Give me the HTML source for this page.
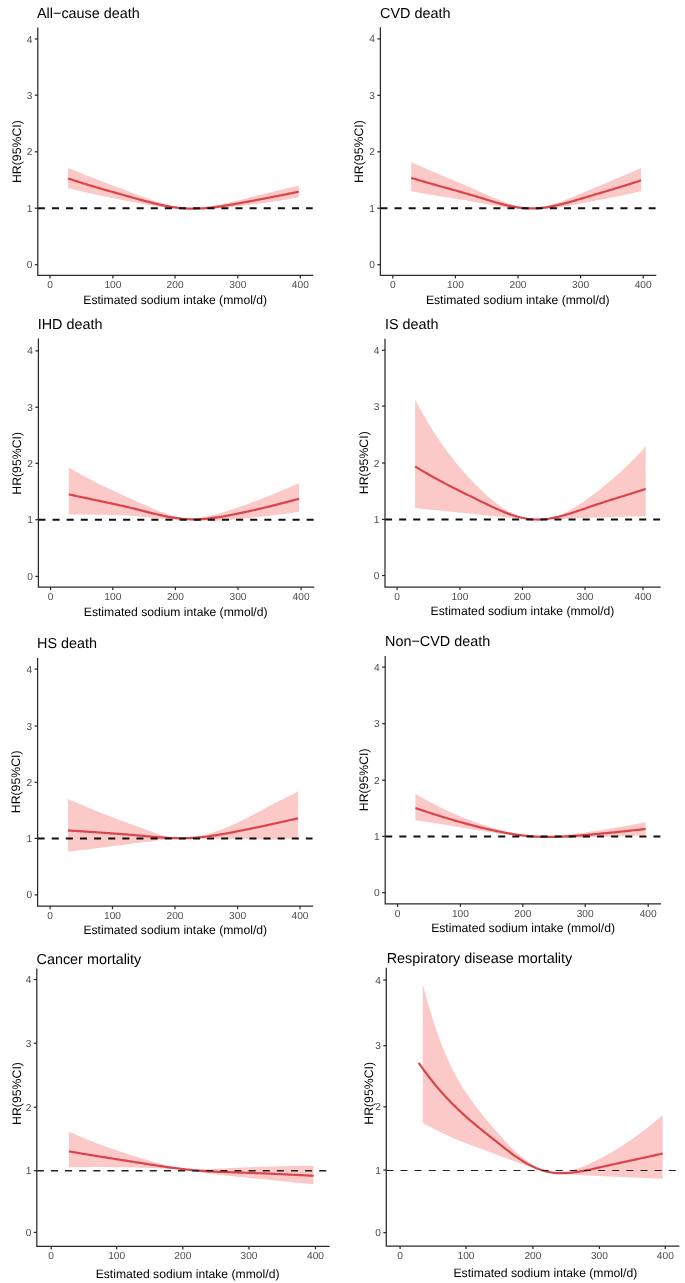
<!DOCTYPE html>
<html><head><meta charset="utf-8"><style>
html,body{margin:0;padding:0;background:#fff;width:685px;height:1283px;overflow:hidden}
svg{display:block;will-change:transform}
text{font-family:"Liberation Sans", sans-serif;text-rendering:geometricPrecision}
.tk{font-size:10.2px;fill:#4d4d4d}
.ti{font-size:14.4px;fill:#000}
.at{font-size:12.17px;fill:#000}
.yl{font-size:12.3px;fill:#000}
</style></head><body>
<svg width="685" height="1283" viewBox="0 0 685 1283">
<rect width="685" height="1283" fill="#fff"/>
<path d="M67.99,167.94 L69.94,168.72 L71.89,169.49 L73.84,170.27 L75.79,171.04 L77.74,171.82 L79.69,172.59 L81.64,173.36 L83.59,174.13 L85.54,174.9 L87.49,175.66 L89.44,176.43 L91.39,177.19 L93.34,177.95 L95.29,178.7 L97.24,179.46 L99.19,180.21 L101.14,180.96 L103.09,181.71 L105.04,182.46 L106.99,183.2 L108.94,183.95 L110.89,184.69 L112.84,185.43 L114.76,186.16 L116.69,186.9 L118.62,187.63 L120.54,188.36 L122.47,189.09 L124.4,189.82 L126.32,190.55 L128.25,191.27 L130.18,191.99 L132.1,192.71 L134.03,193.43 L135.96,194.14 L137.88,194.86 L139.81,195.57 L141.74,196.27 L143.66,196.97 L145.59,197.67 L147.52,198.35 L149.44,199.03 L151.37,199.69 L153.3,200.34 L155.22,200.97 L157.15,201.59 L159.08,202.19 L161,202.78 L162.93,203.34 L164.86,203.88 L166.78,204.4 L168.71,204.9 L170.64,205.38 L172.56,205.83 L174.49,206.25 L176.43,206.65 L178.38,207.02 L180.32,207.36 L182.27,207.68 L184.21,207.96 L186.16,208.21 L188.1,208.43 L190.05,208.61 L191.99,208.6 L193.94,208.48 L195.88,208.32 L197.83,208.14 L199.77,207.93 L201.72,207.7 L203.66,207.44 L205.61,207.17 L207.55,206.87 L209.5,206.55 L211.45,206.21 L213.39,205.86 L215.34,205.49 L217.28,205.1 L219.23,204.7 L221.17,204.28 L223.12,203.86 L225.06,203.42 L227.01,202.97 L228.95,202.51 L230.9,202.05 L232.84,201.58 L234.79,201.11 L236.73,200.63 L238.68,200.15 L240.61,199.68 L242.55,199.2 L244.49,198.72 L246.43,198.24 L248.36,197.76 L250.3,197.28 L252.24,196.8 L254.18,196.33 L256.11,195.85 L258.05,195.37 L259.99,194.89 L261.93,194.42 L263.86,193.94 L265.8,193.47 L267.74,192.99 L269.68,192.52 L271.61,192.05 L273.55,191.58 L275.49,191.11 L277.43,190.64 L279.36,190.17 L281.3,189.71 L283.24,189.25 L285.17,188.79 L287.11,188.33 L289.05,187.87 L290.99,187.42 L292.93,186.97 L294.86,186.52 L296.8,186.08 L298.74,185.63 L298.74,197.25 L296.8,197.63 L294.86,197.99 L292.93,198.35 L290.99,198.7 L289.05,199.04 L287.11,199.38 L285.17,199.72 L283.24,200.04 L281.3,200.37 L279.36,200.68 L277.43,200.99 L275.49,201.3 L273.55,201.6 L271.61,201.89 L269.68,202.19 L267.74,202.47 L265.8,202.76 L263.86,203.03 L261.93,203.31 L259.99,203.58 L258.05,203.84 L256.11,204.11 L254.18,204.37 L252.24,204.62 L250.3,204.87 L248.36,205.12 L246.43,205.37 L244.49,205.61 L242.55,205.85 L240.61,206.09 L238.68,206.33 L236.73,206.56 L234.79,206.79 L232.84,207.02 L230.9,207.24 L228.95,207.45 L227.01,207.65 L225.06,207.85 L223.12,208.04 L221.17,208.21 L219.23,208.38 L217.28,208.53 L215.34,208.67 L213.39,208.79 L211.45,208.89 L209.5,208.98 L207.55,209.04 L205.61,209.09 L203.66,209.12 L201.72,209.12 L199.77,209.1 L197.83,209.06 L195.88,208.99 L193.94,208.89 L191.99,208.77 L190.05,208.7 L188.1,208.77 L186.16,208.81 L184.21,208.82 L182.27,208.8 L180.32,208.75 L178.38,208.68 L176.43,208.58 L174.49,208.45 L172.56,208.31 L170.64,208.14 L168.71,207.95 L166.78,207.74 L164.86,207.51 L162.93,207.26 L161,207 L159.08,206.72 L157.15,206.43 L155.22,206.12 L153.3,205.8 L151.37,205.48 L149.44,205.14 L147.52,204.79 L145.59,204.44 L143.66,204.08 L141.74,203.72 L139.81,203.35 L137.88,202.98 L135.96,202.61 L134.03,202.24 L132.1,201.88 L130.18,201.5 L128.25,201.13 L126.32,200.76 L124.4,200.39 L122.47,200.01 L120.54,199.63 L118.62,199.26 L116.69,198.87 L114.76,198.49 L112.84,198.1 L110.89,197.72 L108.94,197.32 L106.99,196.93 L105.04,196.53 L103.09,196.13 L101.14,195.72 L99.19,195.31 L97.24,194.89 L95.29,194.47 L93.34,194.04 L91.39,193.61 L89.44,193.17 L87.49,192.73 L85.54,192.28 L83.59,191.82 L81.64,191.36 L79.69,190.89 L77.74,190.41 L75.79,189.93 L73.84,189.44 L71.89,188.94 L69.94,188.43 L67.99,187.91Z" fill="#fbc9c8"/>
<path d="M67.99,178.5 L69.94,179.14 L71.89,179.77 L73.84,180.4 L75.79,181.02 L77.74,181.63 L79.69,182.25 L81.64,182.85 L83.59,183.46 L85.54,184.06 L87.49,184.65 L89.44,185.24 L91.39,185.83 L93.34,186.41 L95.29,186.99 L97.24,187.56 L99.19,188.13 L101.14,188.7 L103.09,189.26 L105.04,189.82 L106.99,190.38 L108.94,190.94 L110.89,191.49 L112.84,192.04 L114.76,192.59 L116.69,193.14 L118.62,193.68 L120.54,194.22 L122.47,194.77 L124.4,195.3 L126.32,195.84 L128.25,196.38 L130.18,196.91 L132.1,197.45 L134.03,197.98 L135.96,198.51 L137.88,199.05 L139.81,199.58 L141.74,200.1 L143.66,200.63 L145.59,201.14 L147.52,201.66 L149.44,202.16 L151.37,202.65 L153.3,203.13 L155.22,203.6 L157.15,204.06 L159.08,204.5 L161,204.92 L162.93,205.33 L164.86,205.72 L166.78,206.09 L168.71,206.44 L170.64,206.77 L172.56,207.08 L174.49,207.36 L176.43,207.62 L178.38,207.86 L180.32,208.06 L182.27,208.24 L184.21,208.39 L186.16,208.51 L188.1,208.6 L190.05,208.66 L191.99,208.69 L193.94,208.69 L195.88,208.66 L197.83,208.6 L199.77,208.52 L201.72,208.41 L203.66,208.29 L205.61,208.14 L207.55,207.97 L209.5,207.78 L211.45,207.57 L213.39,207.34 L215.34,207.1 L217.28,206.84 L219.23,206.57 L221.17,206.28 L223.12,205.99 L225.06,205.68 L227.01,205.36 L228.95,205.03 L230.9,204.7 L232.84,204.36 L234.79,204.02 L236.73,203.67 L238.68,203.32 L240.61,202.97 L242.55,202.62 L244.49,202.26 L246.43,201.91 L248.36,201.55 L250.3,201.19 L252.24,200.83 L254.18,200.47 L256.11,200.11 L258.05,199.75 L259.99,199.38 L261.93,199.01 L263.86,198.64 L265.8,198.27 L267.74,197.9 L269.68,197.53 L271.61,197.15 L273.55,196.77 L275.49,196.39 L277.43,196.01 L279.36,195.63 L281.3,195.24 L283.24,194.85 L285.17,194.46 L287.11,194.07 L289.05,193.68 L290.99,193.28 L292.93,192.88 L294.86,192.48 L296.8,192.08 L298.74,191.68" fill="none" stroke="#d9454b" stroke-width="2.2" stroke-linejoin="round"/>
<line x1="37.8" y1="208.2" x2="312.7" y2="208.2" stroke="#111" stroke-width="2" stroke-dasharray="7.06 7.06"/>
<path d="M37.8,28.2 L37.8,275.4 L312.7,275.4" fill="none" stroke="#2b2b2b" stroke-width="1.25" stroke-linejoin="miter" stroke-linecap="square"/>
<line x1="34.8" y1="264.7" x2="37.8" y2="264.7" stroke="#2b2b2b" stroke-width="1.25"/>
<text x="32.3" y="268.2" text-anchor="end" class="tk">0</text>
<line x1="34.8" y1="208.2" x2="37.8" y2="208.2" stroke="#2b2b2b" stroke-width="1.25"/>
<text x="32.3" y="211.7" text-anchor="end" class="tk">1</text>
<line x1="34.8" y1="151.8" x2="37.8" y2="151.8" stroke="#2b2b2b" stroke-width="1.25"/>
<text x="32.3" y="155.3" text-anchor="end" class="tk">2</text>
<line x1="34.8" y1="95.2" x2="37.8" y2="95.2" stroke="#2b2b2b" stroke-width="1.25"/>
<text x="32.3" y="98.7" text-anchor="end" class="tk">3</text>
<line x1="34.8" y1="39.0" x2="37.8" y2="39.0" stroke="#2b2b2b" stroke-width="1.25"/>
<text x="32.3" y="42.5" text-anchor="end" class="tk">4</text>
<line x1="50.0" y1="275.4" x2="50.0" y2="278.4" stroke="#2b2b2b" stroke-width="1.25"/>
<text x="50.0" y="288.2" text-anchor="middle" class="tk">0</text>
<line x1="112.9" y1="275.4" x2="112.9" y2="278.4" stroke="#2b2b2b" stroke-width="1.25"/>
<text x="112.9" y="288.2" text-anchor="middle" class="tk">100</text>
<line x1="175.05" y1="275.4" x2="175.05" y2="278.4" stroke="#2b2b2b" stroke-width="1.25"/>
<text x="175.05" y="288.2" text-anchor="middle" class="tk">200</text>
<line x1="237.8" y1="275.4" x2="237.8" y2="278.4" stroke="#2b2b2b" stroke-width="1.25"/>
<text x="237.8" y="288.2" text-anchor="middle" class="tk">300</text>
<line x1="300.3" y1="275.4" x2="300.3" y2="278.4" stroke="#2b2b2b" stroke-width="1.25"/>
<text x="300.3" y="288.2" text-anchor="middle" class="tk">400</text>
<text x="37" y="17.6" class="ti">All−cause death</text>
<text x="83.3" y="303.9" class="at">Estimated sodium intake (mmol/d)</text>
<text transform="translate(20.6,151.6) rotate(-90)" text-anchor="middle" class="yl">HR(95%CI)</text>
<path d="M411.2,162.26 L413.14,163.1 L415.07,163.94 L417,164.78 L418.93,165.61 L420.86,166.45 L422.79,167.28 L424.72,168.11 L426.65,168.94 L428.58,169.77 L430.52,170.6 L432.45,171.42 L434.38,172.24 L436.31,173.06 L438.24,173.87 L440.17,174.69 L442.1,175.51 L444.03,176.32 L445.96,177.14 L447.9,177.95 L449.83,178.77 L451.76,179.59 L453.69,180.4 L455.62,181.22 L457.55,182.05 L459.48,182.87 L461.41,183.69 L463.34,184.52 L465.28,185.35 L467.21,186.19 L469.14,187.02 L471.07,187.86 L473,188.7 L474.93,189.55 L476.86,190.4 L478.79,191.25 L480.73,192.1 L482.66,192.96 L484.59,193.81 L486.52,194.67 L488.45,195.52 L490.38,196.35 L492.31,197.18 L494.24,198 L496.17,198.79 L498.11,199.57 L500.04,200.33 L501.97,201.07 L503.9,201.79 L505.83,202.48 L507.76,203.14 L509.69,203.77 L511.62,204.37 L513.55,204.94 L515.49,205.48 L517.42,205.98 L519.35,206.45 L521.28,206.87 L523.21,207.26 L525.14,207.61 L527.07,207.91 L529,208.18 L530.93,208.39 L532.87,208.36 L534.8,208.14 L536.73,207.87 L538.66,207.56 L540.59,207.21 L542.52,206.83 L544.45,206.41 L546.38,205.95 L548.31,205.46 L550.25,204.94 L552.18,204.38 L554.11,203.8 L556.04,203.19 L557.97,202.55 L559.9,201.89 L561.83,201.21 L563.76,200.5 L565.69,199.77 L567.63,199.03 L569.56,198.27 L571.49,197.49 L573.42,196.71 L575.35,195.91 L577.28,195.11 L579.21,194.3 L581.14,193.49 L583.08,192.68 L585.01,191.87 L586.94,191.06 L588.87,190.24 L590.8,189.43 L592.73,188.62 L594.66,187.81 L596.59,187 L598.52,186.19 L600.46,185.38 L602.39,184.56 L604.32,183.75 L606.25,182.94 L608.18,182.12 L610.11,181.31 L612.04,180.49 L613.97,179.68 L615.9,178.86 L617.84,178.05 L619.77,177.23 L621.7,176.41 L623.63,175.59 L625.56,174.77 L627.49,173.94 L629.42,173.12 L631.35,172.29 L633.28,171.46 L635.22,170.63 L637.15,169.8 L639.08,168.97 L641.01,168.14 L641.01,191.14 L639.08,191.61 L637.15,192.07 L635.22,192.53 L633.28,192.97 L631.35,193.41 L629.42,193.84 L627.49,194.27 L625.56,194.69 L623.63,195.1 L621.7,195.51 L619.77,195.92 L617.84,196.31 L615.9,196.71 L613.97,197.1 L612.04,197.49 L610.11,197.87 L608.18,198.25 L606.25,198.63 L604.32,199.01 L602.39,199.38 L600.46,199.75 L598.52,200.12 L596.59,200.49 L594.66,200.86 L592.73,201.23 L590.8,201.6 L588.87,201.97 L586.94,202.34 L585.01,202.71 L583.08,203.08 L581.14,203.46 L579.21,203.83 L577.28,204.21 L575.35,204.58 L573.42,204.95 L571.49,205.31 L569.56,205.66 L567.63,206.01 L565.69,206.34 L563.76,206.66 L561.83,206.96 L559.9,207.25 L557.97,207.52 L556.04,207.77 L554.11,207.99 L552.18,208.2 L550.25,208.38 L548.31,208.53 L546.38,208.65 L544.45,208.74 L542.52,208.8 L540.59,208.83 L538.66,208.82 L536.73,208.78 L534.8,208.69 L532.87,208.56 L530.93,208.55 L529,208.68 L527.07,208.78 L525.14,208.83 L523.21,208.85 L521.28,208.82 L519.35,208.77 L517.42,208.67 L515.49,208.55 L513.55,208.4 L511.62,208.22 L509.69,208.01 L507.76,207.78 L505.83,207.53 L503.9,207.26 L501.97,206.97 L500.04,206.66 L498.11,206.34 L496.17,206 L494.24,205.66 L492.31,205.3 L490.38,204.94 L488.45,204.57 L486.52,204.2 L484.59,203.82 L482.66,203.45 L480.73,203.09 L478.79,202.73 L476.86,202.37 L474.93,202.02 L473,201.68 L471.07,201.34 L469.14,201.01 L467.21,200.68 L465.28,200.35 L463.34,200.03 L461.41,199.72 L459.48,199.4 L457.55,199.09 L455.62,198.78 L453.69,198.47 L451.76,198.16 L449.83,197.86 L447.9,197.55 L445.96,197.24 L444.03,196.93 L442.1,196.62 L440.17,196.31 L438.24,196 L436.31,195.69 L434.38,195.37 L432.45,195.04 L430.52,194.72 L428.58,194.38 L426.65,194.05 L424.72,193.7 L422.79,193.36 L420.86,193 L418.93,192.64 L417,192.28 L415.07,191.91 L413.14,191.53 L411.2,191.15Z" fill="#fbc9c8"/>
<path d="M411.2,177.9 L413.14,178.48 L415.07,179.06 L417,179.63 L418.93,180.2 L420.86,180.77 L422.79,181.33 L424.72,181.89 L426.65,182.45 L428.58,183 L430.52,183.55 L432.45,184.09 L434.38,184.63 L436.31,185.17 L438.24,185.71 L440.17,186.24 L442.1,186.78 L444.03,187.31 L445.96,187.84 L447.9,188.38 L449.83,188.91 L451.76,189.45 L453.69,189.98 L455.62,190.52 L457.55,191.06 L459.48,191.6 L461.41,192.15 L463.34,192.7 L465.28,193.25 L467.21,193.8 L469.14,194.36 L471.07,194.93 L473,195.49 L474.93,196.07 L476.86,196.65 L478.79,197.23 L480.73,197.82 L482.66,198.41 L484.59,199.01 L486.52,199.61 L488.45,200.2 L490.38,200.79 L492.31,201.37 L494.24,201.94 L496.17,202.5 L498.11,203.05 L500.04,203.58 L501.97,204.09 L503.9,204.59 L505.83,205.06 L507.76,205.51 L509.69,205.93 L511.62,206.33 L513.55,206.7 L515.49,207.04 L517.42,207.34 L519.35,207.62 L521.28,207.86 L523.21,208.06 L525.14,208.22 L527.07,208.35 L529,208.43 L530.93,208.47 L532.87,208.46 L534.8,208.41 L536.73,208.32 L538.66,208.19 L540.59,208.03 L542.52,207.82 L544.45,207.59 L546.38,207.32 L548.31,207.01 L550.25,206.68 L552.18,206.32 L554.11,205.94 L556.04,205.52 L557.97,205.09 L559.9,204.63 L561.83,204.15 L563.76,203.66 L565.69,203.14 L567.63,202.62 L569.56,202.07 L571.49,201.52 L573.42,200.96 L575.35,200.39 L577.28,199.82 L579.21,199.24 L581.14,198.66 L583.08,198.08 L585.01,197.51 L586.94,196.93 L588.87,196.36 L590.8,195.79 L592.73,195.21 L594.66,194.64 L596.59,194.07 L598.52,193.5 L600.46,192.92 L602.39,192.35 L604.32,191.78 L606.25,191.2 L608.18,190.63 L610.11,190.05 L612.04,189.47 L613.97,188.89 L615.9,188.31 L617.84,187.72 L619.77,187.13 L621.7,186.54 L623.63,185.95 L625.56,185.35 L627.49,184.75 L629.42,184.15 L631.35,183.54 L633.28,182.92 L635.22,182.3 L637.15,181.68 L639.08,181.05 L641.01,180.42" fill="none" stroke="#d9454b" stroke-width="2.2" stroke-linejoin="round"/>
<line x1="380.4" y1="208.2" x2="655.6" y2="208.2" stroke="#111" stroke-width="2" stroke-dasharray="7.06 7.06"/>
<path d="M380.4,27.8 L380.4,275.4 L655.6,275.4" fill="none" stroke="#2b2b2b" stroke-width="1.25" stroke-linejoin="miter" stroke-linecap="square"/>
<line x1="377.4" y1="264.7" x2="380.4" y2="264.7" stroke="#2b2b2b" stroke-width="1.25"/>
<text x="374.9" y="268.2" text-anchor="end" class="tk">0</text>
<line x1="377.4" y1="208.2" x2="380.4" y2="208.2" stroke="#2b2b2b" stroke-width="1.25"/>
<text x="374.9" y="211.7" text-anchor="end" class="tk">1</text>
<line x1="377.4" y1="151.8" x2="380.4" y2="151.8" stroke="#2b2b2b" stroke-width="1.25"/>
<text x="374.9" y="155.3" text-anchor="end" class="tk">2</text>
<line x1="377.4" y1="95.4" x2="380.4" y2="95.4" stroke="#2b2b2b" stroke-width="1.25"/>
<text x="374.9" y="98.9" text-anchor="end" class="tk">3</text>
<line x1="377.4" y1="38.9" x2="380.4" y2="38.9" stroke="#2b2b2b" stroke-width="1.25"/>
<text x="374.9" y="42.4" text-anchor="end" class="tk">4</text>
<line x1="392.8" y1="275.4" x2="392.8" y2="278.4" stroke="#2b2b2b" stroke-width="1.25"/>
<text x="392.8" y="288.2" text-anchor="middle" class="tk">0</text>
<line x1="455.4" y1="275.4" x2="455.4" y2="278.4" stroke="#2b2b2b" stroke-width="1.25"/>
<text x="455.4" y="288.2" text-anchor="middle" class="tk">100</text>
<line x1="518.0" y1="275.4" x2="518.0" y2="278.4" stroke="#2b2b2b" stroke-width="1.25"/>
<text x="518.0" y="288.2" text-anchor="middle" class="tk">200</text>
<line x1="580.6" y1="275.4" x2="580.6" y2="278.4" stroke="#2b2b2b" stroke-width="1.25"/>
<text x="580.6" y="288.2" text-anchor="middle" class="tk">300</text>
<line x1="643.2" y1="275.4" x2="643.2" y2="278.4" stroke="#2b2b2b" stroke-width="1.25"/>
<text x="643.2" y="288.2" text-anchor="middle" class="tk">400</text>
<text x="380" y="17.8" class="ti">CVD death</text>
<text x="425.9" y="303.9" class="at">Estimated sodium intake (mmol/d)</text>
<text transform="translate(363.2,151.6) rotate(-90)" text-anchor="middle" class="yl">HR(95%CI)</text>
<path d="M68.76,467.55 L70.68,468.69 L72.61,469.81 L74.53,470.91 L76.45,472.01 L78.37,473.08 L80.29,474.15 L82.21,475.2 L84.13,476.24 L86.06,477.27 L87.98,478.28 L89.9,479.28 L91.82,480.27 L93.74,481.25 L95.66,482.22 L97.58,483.18 L99.5,484.13 L101.43,485.07 L103.35,486.01 L105.27,486.93 L107.19,487.85 L109.11,488.77 L111.03,489.67 L112.96,490.58 L114.89,491.48 L116.82,492.37 L118.76,493.26 L120.69,494.15 L122.62,495.04 L124.56,495.92 L126.49,496.8 L128.43,497.68 L130.36,498.55 L132.29,499.43 L134.23,500.3 L136.16,501.18 L138.09,502.05 L140.03,502.92 L141.96,503.79 L143.9,504.66 L145.83,505.51 L147.76,506.36 L149.7,507.2 L151.63,508.02 L153.56,508.83 L155.5,509.63 L157.43,510.4 L159.37,511.16 L161.3,511.89 L163.23,512.6 L165.17,513.29 L167.1,513.96 L169.03,514.59 L170.97,515.21 L172.9,515.79 L174.84,516.34 L176.77,516.87 L178.7,517.36 L180.64,517.82 L182.57,518.25 L184.5,518.64 L186.44,519 L188.37,519.22 L190.31,519.07 L192.24,518.88 L194.17,518.67 L196.11,518.42 L198.04,518.14 L199.97,517.84 L201.91,517.51 L203.84,517.15 L205.78,516.77 L207.71,516.36 L209.64,515.93 L211.58,515.48 L213.51,515 L215.45,514.5 L217.38,513.98 L219.31,513.45 L221.25,512.89 L223.18,512.32 L225.11,511.73 L227.05,511.12 L228.98,510.5 L230.92,509.87 L232.85,509.23 L234.78,508.57 L236.72,507.91 L238.66,507.24 L240.6,506.56 L242.55,505.87 L244.5,505.18 L246.45,504.48 L248.4,503.77 L250.35,503.05 L252.3,502.33 L254.25,501.6 L256.2,500.87 L258.15,500.13 L260.1,499.38 L262.05,498.62 L264,497.86 L265.94,497.09 L267.89,496.31 L269.84,495.53 L271.79,494.74 L273.74,493.94 L275.69,493.14 L277.64,492.33 L279.59,491.51 L281.54,490.69 L283.49,489.86 L285.44,489.03 L287.39,488.19 L289.33,487.34 L291.28,486.49 L293.23,485.63 L295.18,484.76 L297.13,483.89 L299.08,483.02 L299.08,511.81 L297.13,512.09 L295.18,512.36 L293.23,512.64 L291.28,512.91 L289.33,513.17 L287.39,513.44 L285.44,513.7 L283.49,513.96 L281.54,514.21 L279.59,514.47 L277.64,514.72 L275.69,514.97 L273.74,515.21 L271.79,515.45 L269.84,515.69 L267.89,515.93 L265.94,516.16 L264,516.39 L262.05,516.62 L260.1,516.84 L258.15,517.06 L256.2,517.28 L254.25,517.49 L252.3,517.7 L250.35,517.91 L248.4,518.11 L246.45,518.31 L244.5,518.51 L242.55,518.7 L240.6,518.89 L238.66,519.08 L236.72,519.26 L234.78,519.44 L232.85,519.61 L230.92,519.78 L228.98,519.94 L227.05,520.08 L225.11,520.22 L223.18,520.35 L221.25,520.47 L219.31,520.57 L217.38,520.65 L215.45,520.72 L213.51,520.77 L211.58,520.81 L209.64,520.82 L207.71,520.82 L205.78,520.79 L203.84,520.74 L201.91,520.66 L199.97,520.56 L198.04,520.43 L196.11,520.27 L194.17,520.08 L192.24,519.86 L190.31,519.61 L188.37,519.33 L186.44,519.34 L184.5,519.43 L182.57,519.49 L180.64,519.53 L178.7,519.53 L176.77,519.52 L174.84,519.47 L172.9,519.41 L170.97,519.33 L169.03,519.23 L167.1,519.11 L165.17,518.98 L163.23,518.83 L161.3,518.67 L159.37,518.5 L157.43,518.33 L155.5,518.14 L153.56,517.95 L151.63,517.76 L149.7,517.56 L147.76,517.36 L145.83,517.17 L143.9,516.97 L141.96,516.79 L140.03,516.6 L138.09,516.43 L136.16,516.26 L134.23,516.11 L132.29,515.97 L130.36,515.83 L128.43,515.71 L126.49,515.59 L124.56,515.48 L122.62,515.38 L120.69,515.29 L118.76,515.2 L116.82,515.12 L114.89,515.05 L112.96,514.99 L111.03,514.93 L109.11,514.88 L107.19,514.83 L105.27,514.79 L103.35,514.75 L101.43,514.72 L99.5,514.69 L97.58,514.66 L95.66,514.64 L93.74,514.62 L91.82,514.6 L89.9,514.59 L87.98,514.57 L86.06,514.56 L84.13,514.55 L82.21,514.54 L80.29,514.53 L78.37,514.53 L76.45,514.52 L74.53,514.52 L72.61,514.51 L70.68,514.51 L68.76,514.51Z" fill="#fbc9c8"/>
<path d="M68.76,494.34 L70.68,494.76 L72.61,495.19 L74.53,495.61 L76.45,496.04 L78.37,496.46 L80.29,496.87 L82.21,497.29 L84.13,497.7 L86.06,498.11 L87.98,498.52 L89.9,498.93 L91.82,499.33 L93.74,499.74 L95.66,500.14 L97.58,500.54 L99.5,500.95 L101.43,501.35 L103.35,501.75 L105.27,502.16 L107.19,502.57 L109.11,502.98 L111.03,503.39 L112.96,503.81 L114.89,504.22 L116.82,504.65 L118.76,505.07 L120.69,505.51 L122.62,505.94 L124.56,506.38 L126.49,506.83 L128.43,507.28 L130.36,507.74 L132.29,508.2 L134.23,508.67 L136.16,509.14 L138.09,509.63 L140.03,510.12 L141.96,510.61 L143.9,511.11 L145.83,511.6 L147.76,512.1 L149.7,512.59 L151.63,513.08 L153.56,513.56 L155.5,514.03 L157.43,514.49 L159.37,514.94 L161.3,515.38 L163.23,515.8 L165.17,516.2 L167.1,516.59 L169.03,516.96 L170.97,517.3 L172.9,517.63 L174.84,517.93 L176.77,518.21 L178.7,518.46 L180.64,518.68 L182.57,518.88 L184.5,519.04 L186.44,519.17 L188.37,519.27 L190.31,519.34 L192.24,519.37 L194.17,519.38 L196.11,519.35 L198.04,519.3 L199.97,519.21 L201.91,519.1 L203.84,518.97 L205.78,518.81 L207.71,518.63 L209.64,518.43 L211.58,518.2 L213.51,517.96 L215.45,517.69 L217.38,517.41 L219.31,517.11 L221.25,516.8 L223.18,516.47 L225.11,516.12 L227.05,515.77 L228.98,515.4 L230.92,515.02 L232.85,514.64 L234.78,514.24 L236.72,513.84 L238.66,513.44 L240.6,513.03 L242.55,512.61 L244.5,512.19 L246.45,511.77 L248.4,511.34 L250.35,510.9 L252.3,510.47 L254.25,510.02 L256.2,509.58 L258.15,509.13 L260.1,508.67 L262.05,508.21 L264,507.75 L265.94,507.28 L267.89,506.81 L269.84,506.34 L271.79,505.86 L273.74,505.37 L275.69,504.88 L277.64,504.39 L279.59,503.9 L281.54,503.4 L283.49,502.9 L285.44,502.39 L287.39,501.88 L289.33,501.36 L291.28,500.85 L293.23,500.33 L295.18,499.8 L297.13,499.27 L299.08,498.74" fill="none" stroke="#d9454b" stroke-width="2.2" stroke-linejoin="round"/>
<line x1="38.4" y1="519.7" x2="313.6" y2="519.7" stroke="#111" stroke-width="2" stroke-dasharray="7.06 7.06"/>
<path d="M38.4,339.2 L38.4,587.1 L313.6,587.1" fill="none" stroke="#2b2b2b" stroke-width="1.25" stroke-linejoin="miter" stroke-linecap="square"/>
<line x1="35.4" y1="576.4" x2="38.4" y2="576.4" stroke="#2b2b2b" stroke-width="1.25"/>
<text x="32.9" y="579.9" text-anchor="end" class="tk">0</text>
<line x1="35.4" y1="519.7" x2="38.4" y2="519.7" stroke="#2b2b2b" stroke-width="1.25"/>
<text x="32.9" y="523.2" text-anchor="end" class="tk">1</text>
<line x1="35.4" y1="463.3" x2="38.4" y2="463.3" stroke="#2b2b2b" stroke-width="1.25"/>
<text x="32.9" y="466.8" text-anchor="end" class="tk">2</text>
<line x1="35.4" y1="407.2" x2="38.4" y2="407.2" stroke="#2b2b2b" stroke-width="1.25"/>
<text x="32.9" y="410.7" text-anchor="end" class="tk">3</text>
<line x1="35.4" y1="350.9" x2="38.4" y2="350.9" stroke="#2b2b2b" stroke-width="1.25"/>
<text x="32.9" y="354.4" text-anchor="end" class="tk">4</text>
<line x1="50.6" y1="587.1" x2="50.6" y2="590.1" stroke="#2b2b2b" stroke-width="1.25"/>
<text x="50.6" y="599.9" text-anchor="middle" class="tk">0</text>
<line x1="112.8" y1="587.1" x2="112.8" y2="590.1" stroke="#2b2b2b" stroke-width="1.25"/>
<text x="112.8" y="599.9" text-anchor="middle" class="tk">100</text>
<line x1="175.4" y1="587.1" x2="175.4" y2="590.1" stroke="#2b2b2b" stroke-width="1.25"/>
<text x="175.4" y="599.9" text-anchor="middle" class="tk">200</text>
<line x1="238.0" y1="587.1" x2="238.0" y2="590.1" stroke="#2b2b2b" stroke-width="1.25"/>
<text x="238.0" y="599.9" text-anchor="middle" class="tk">300</text>
<line x1="301.1" y1="587.1" x2="301.1" y2="590.1" stroke="#2b2b2b" stroke-width="1.25"/>
<text x="301.1" y="599.9" text-anchor="middle" class="tk">400</text>
<text x="37.7" y="329.3" class="ti">IHD death</text>
<text x="83.8" y="615.5" class="at">Estimated sodium intake (mmol/d)</text>
<text transform="translate(21.0,463.3) rotate(-90)" text-anchor="middle" class="yl">HR(95%CI)</text>
<path d="M415.12,399.7 L417.11,403.39 L419.09,407.01 L421.07,410.61 L423.06,414.13 L425.04,417.58 L427.03,420.96 L429.01,424.26 L430.99,427.49 L432.98,430.66 L434.96,433.76 L436.94,436.79 L438.93,439.76 L440.91,442.66 L442.9,445.51 L444.88,448.29 L446.86,451.02 L448.85,453.69 L450.83,456.31 L452.81,458.87 L454.8,461.38 L456.78,463.83 L458.77,466.22 L460.75,468.56 L462.72,470.85 L464.7,473.09 L466.68,475.29 L468.66,477.45 L470.63,479.56 L472.61,481.63 L474.59,483.66 L476.57,485.64 L478.54,487.59 L480.52,489.5 L482.5,491.37 L484.48,493.21 L486.45,495.01 L488.43,496.76 L490.41,498.48 L492.39,500.15 L494.36,501.76 L496.34,503.32 L498.32,504.83 L500.3,506.27 L502.27,507.65 L504.25,508.97 L506.23,510.22 L508.21,511.41 L510.18,512.53 L512.16,513.57 L514.14,514.55 L516.11,515.45 L518.09,516.28 L520.07,517.04 L522.05,517.72 L524.02,518.32 L526,518.84 L527.97,519.28 L529.94,519.64 L531.92,519.91 L533.89,520.09 L535.87,520.18 L537.84,520.19 L539.82,520.1 L541.79,519.94 L543.76,519.69 L545.74,519.37 L547.71,518.98 L549.69,518.51 L551.66,517.97 L553.64,517.37 L555.61,516.7 L557.58,515.96 L559.56,515.17 L561.53,514.32 L563.51,513.41 L565.48,512.45 L567.46,511.44 L569.43,510.38 L571.4,509.28 L573.38,508.13 L575.35,506.94 L577.33,505.72 L579.3,504.47 L581.28,503.19 L583.25,501.88 L585.21,500.56 L587.04,499.22 L588.87,497.87 L590.7,496.51 L592.54,495.13 L594.37,493.74 L596.2,492.33 L598.03,490.91 L599.87,489.47 L601.7,488.02 L603.53,486.55 L605.36,485.06 L607.19,483.55 L609.03,482.03 L610.86,480.48 L612.69,478.92 L614.52,477.33 L616.35,475.73 L618.19,474.1 L620.02,472.46 L621.85,470.78 L623.68,469.09 L625.51,467.37 L627.35,465.62 L629.18,463.85 L631.01,462.04 L632.84,460.19 L634.68,458.32 L636.51,456.41 L638.34,454.47 L640.17,452.5 L642,450.5 L643.84,448.47 L645.67,446.41 L645.67,516.24 L643.84,516.27 L642,516.31 L640.17,516.34 L638.34,516.38 L636.51,516.41 L634.68,516.45 L632.84,516.48 L631.01,516.52 L629.18,516.55 L627.35,516.59 L625.51,516.62 L623.68,516.66 L621.85,516.7 L620.02,516.73 L618.19,516.77 L616.35,516.81 L614.52,516.85 L612.69,516.9 L610.86,516.94 L609.03,516.99 L607.19,517.04 L605.36,517.09 L603.53,517.14 L601.7,517.2 L599.87,517.25 L598.03,517.32 L596.2,517.38 L594.37,517.45 L592.54,517.52 L590.7,517.59 L588.87,517.67 L587.04,517.76 L585.21,517.84 L583.25,517.93 L581.28,518.03 L579.3,518.12 L577.33,518.22 L575.35,518.32 L573.38,518.42 L571.4,518.52 L569.43,518.62 L567.46,518.72 L565.48,518.82 L563.51,518.91 L561.53,518.99 L559.56,519.08 L557.58,519.15 L555.61,519.22 L553.64,519.29 L551.66,519.34 L549.69,519.39 L547.71,519.43 L545.74,519.45 L543.76,519.47 L541.79,519.48 L539.82,519.47 L537.84,519.45 L535.87,519.42 L533.89,519.37 L531.92,519.31 L529.94,519.23 L527.97,519.14 L526,519.04 L524.02,518.93 L522.05,518.8 L520.07,518.67 L518.09,518.52 L516.11,518.36 L514.14,518.2 L512.16,518.03 L510.18,517.85 L508.21,517.66 L506.23,517.47 L504.25,517.27 L502.27,517.07 L500.3,516.86 L498.32,516.65 L496.34,516.43 L494.36,516.22 L492.39,516 L490.41,515.78 L488.43,515.56 L486.45,515.35 L484.48,515.13 L482.5,514.92 L480.52,514.7 L478.54,514.49 L476.57,514.28 L474.59,514.08 L472.61,513.87 L470.63,513.67 L468.66,513.47 L466.68,513.27 L464.7,513.07 L462.72,512.87 L460.75,512.67 L458.77,512.47 L456.78,512.28 L454.8,512.08 L452.81,511.89 L450.83,511.69 L448.85,511.5 L446.86,511.31 L444.88,511.11 L442.9,510.92 L440.91,510.73 L438.93,510.53 L436.94,510.34 L434.96,510.15 L432.98,509.95 L430.99,509.76 L429.01,509.56 L427.03,509.36 L425.04,509.17 L423.06,508.97 L421.07,508.77 L419.09,508.57 L417.11,508.37 L415.12,508.17Z" fill="#fbc9c8"/>
<path d="M415.12,466.47 L417.11,467.68 L419.09,468.89 L421.07,470.07 L423.06,471.25 L425.04,472.41 L427.03,473.56 L429.01,474.7 L430.99,475.82 L432.98,476.93 L434.96,478.03 L436.94,479.12 L438.93,480.19 L440.91,481.25 L442.9,482.31 L444.88,483.35 L446.86,484.39 L448.85,485.42 L450.83,486.44 L452.81,487.45 L454.8,488.46 L456.78,489.46 L458.77,490.46 L460.75,491.45 L462.72,492.44 L464.7,493.42 L466.68,494.4 L468.66,495.38 L470.63,496.35 L472.61,497.32 L474.59,498.29 L476.57,499.25 L478.54,500.22 L480.52,501.18 L482.5,502.14 L484.48,503.1 L486.45,504.06 L488.43,505.01 L490.41,505.96 L492.39,506.9 L494.36,507.82 L496.34,508.72 L498.32,509.61 L500.3,510.47 L502.27,511.31 L504.25,512.11 L506.23,512.89 L508.21,513.64 L510.18,514.34 L512.16,515.02 L514.14,515.65 L516.11,516.24 L518.09,516.79 L520.07,517.3 L522.05,517.76 L524.02,518.17 L526,518.53 L527.97,518.84 L529.94,519.1 L531.92,519.29 L533.89,519.43 L535.87,519.51 L537.84,519.53 L539.82,519.49 L541.79,519.4 L543.76,519.26 L545.74,519.06 L547.71,518.82 L549.69,518.53 L551.66,518.2 L553.64,517.83 L555.61,517.42 L557.58,516.98 L559.56,516.5 L561.53,515.99 L563.51,515.46 L565.48,514.89 L567.46,514.31 L569.43,513.7 L571.4,513.08 L573.38,512.44 L575.35,511.78 L577.33,511.12 L579.3,510.46 L581.28,509.79 L583.25,509.12 L585.21,508.46 L587.04,507.8 L588.87,507.16 L590.7,506.52 L592.54,505.89 L594.37,505.26 L596.2,504.64 L598.03,504.03 L599.87,503.43 L601.7,502.83 L603.53,502.24 L605.36,501.65 L607.19,501.06 L609.03,500.49 L610.86,499.91 L612.69,499.34 L614.52,498.77 L616.35,498.2 L618.19,497.63 L620.02,497.06 L621.85,496.5 L623.68,495.93 L625.51,495.36 L627.35,494.79 L629.18,494.22 L631.01,493.64 L632.84,493.06 L634.68,492.48 L636.51,491.89 L638.34,491.3 L640.17,490.71 L642,490.11 L643.84,489.5 L645.67,488.89" fill="none" stroke="#d9454b" stroke-width="2.2" stroke-linejoin="round"/>
<line x1="385.0" y1="519.4" x2="660.1" y2="519.4" stroke="#111" stroke-width="2" stroke-dasharray="7.06 7.06"/>
<path d="M385.0,339.3 L385.0,587.0 L660.1,587.0" fill="none" stroke="#2b2b2b" stroke-width="1.25" stroke-linejoin="miter" stroke-linecap="square"/>
<line x1="382" y1="575.5" x2="385.0" y2="575.5" stroke="#2b2b2b" stroke-width="1.25"/>
<text x="379.5" y="579" text-anchor="end" class="tk">0</text>
<line x1="382" y1="519.4" x2="385.0" y2="519.4" stroke="#2b2b2b" stroke-width="1.25"/>
<text x="379.5" y="522.9" text-anchor="end" class="tk">1</text>
<line x1="382" y1="463.0" x2="385.0" y2="463.0" stroke="#2b2b2b" stroke-width="1.25"/>
<text x="379.5" y="466.5" text-anchor="end" class="tk">2</text>
<line x1="382" y1="406.1" x2="385.0" y2="406.1" stroke="#2b2b2b" stroke-width="1.25"/>
<text x="379.5" y="409.6" text-anchor="end" class="tk">3</text>
<line x1="382" y1="350.3" x2="385.0" y2="350.3" stroke="#2b2b2b" stroke-width="1.25"/>
<text x="379.5" y="353.8" text-anchor="end" class="tk">4</text>
<line x1="397.1" y1="587.0" x2="397.1" y2="590" stroke="#2b2b2b" stroke-width="1.25"/>
<text x="397.1" y="599.8" text-anchor="middle" class="tk">0</text>
<line x1="459.9" y1="587.0" x2="459.9" y2="590" stroke="#2b2b2b" stroke-width="1.25"/>
<text x="459.9" y="599.8" text-anchor="middle" class="tk">100</text>
<line x1="522.5" y1="587.0" x2="522.5" y2="590" stroke="#2b2b2b" stroke-width="1.25"/>
<text x="522.5" y="599.8" text-anchor="middle" class="tk">200</text>
<line x1="585.0" y1="587.0" x2="585.0" y2="590" stroke="#2b2b2b" stroke-width="1.25"/>
<text x="585.0" y="599.8" text-anchor="middle" class="tk">300</text>
<line x1="643.0" y1="587.0" x2="643.0" y2="590" stroke="#2b2b2b" stroke-width="1.25"/>
<text x="643.0" y="599.8" text-anchor="middle" class="tk">400</text>
<text x="384.9" y="328.6" class="ti">IS death</text>
<text x="430.6" y="614.6" class="at">Estimated sodium intake (mmol/d)</text>
<text transform="translate(367.6,462.7) rotate(-90)" text-anchor="middle" class="yl">HR(95%CI)</text>
<path d="M68.01,799.11 L69.94,799.92 L71.87,800.73 L73.8,801.55 L75.73,802.36 L77.67,803.17 L79.6,803.99 L81.53,804.8 L83.46,805.6 L85.39,806.41 L87.32,807.21 L89.25,808.01 L91.18,808.8 L93.12,809.59 L95.05,810.38 L96.98,811.16 L98.91,811.94 L100.84,812.71 L102.77,813.48 L104.7,814.24 L106.63,814.99 L108.57,815.74 L110.5,816.49 L112.43,817.23 L114.36,817.96 L116.3,818.7 L118.23,819.43 L120.16,820.17 L122.1,820.9 L124.03,821.62 L125.97,822.35 L127.9,823.07 L129.84,823.8 L131.77,824.51 L133.71,825.23 L135.64,825.94 L137.57,826.65 L139.51,827.36 L141.44,828.06 L143.38,828.76 L145.31,829.45 L147.25,830.13 L149.18,830.81 L151.11,831.47 L153.05,832.13 L154.98,832.81 L156.92,833.52 L158.85,834.22 L160.79,834.89 L162.72,835.5 L164.65,836.05 L166.59,836.51 L168.52,836.86 L170.46,837.13 L172.39,837.38 L174.33,837.59 L176.26,837.77 L178.2,837.91 L180.14,838 L182.08,838.03 L184.01,838 L185.95,837.9 L187.89,837.76 L189.83,837.56 L191.76,837.32 L193.7,837.03 L195.64,836.72 L197.57,836.39 L199.51,836.04 L201.45,835.64 L203.39,835.2 L205.32,834.71 L207.26,834.18 L209.2,833.61 L211.14,833.01 L213.07,832.39 L215.01,831.74 L216.95,831.08 L218.89,830.4 L220.82,829.69 L222.76,828.95 L224.7,828.19 L226.64,827.4 L228.57,826.59 L230.51,825.75 L232.45,824.9 L234.39,824.03 L236.32,823.15 L238.26,822.26 L240.19,821.35 L242.12,820.42 L244.05,819.46 L245.98,818.5 L247.92,817.52 L249.85,816.53 L251.78,815.53 L253.71,814.52 L255.64,813.52 L257.57,812.51 L259.5,811.48 L261.43,810.44 L263.37,809.39 L265.3,808.33 L267.23,807.27 L269.16,806.21 L271.09,805.16 L273.02,804.12 L274.95,803.1 L276.88,802.11 L278.82,801.13 L280.75,800.18 L282.68,799.24 L284.61,798.3 L286.54,797.35 L288.47,796.4 L290.4,795.42 L292.33,794.42 L294.27,793.38 L296.2,792.3 L298.13,791.16 L298.13,838.24 L296.2,838.28 L294.27,838.35 L292.33,838.44 L290.4,838.55 L288.47,838.66 L286.54,838.78 L284.61,838.91 L282.68,839.02 L280.75,839.13 L278.82,839.23 L276.88,839.32 L274.95,839.38 L273.02,839.42 L271.09,839.44 L269.16,839.45 L267.23,839.44 L265.3,839.43 L263.37,839.4 L261.43,839.38 L259.5,839.35 L257.57,839.32 L255.64,839.3 L253.71,839.27 L251.78,839.24 L249.85,839.2 L247.92,839.16 L245.98,839.11 L244.05,839.07 L242.12,839.03 L240.19,839 L238.26,838.97 L236.32,838.95 L234.39,838.93 L232.45,838.91 L230.51,838.89 L228.57,838.87 L226.64,838.86 L224.7,838.84 L222.76,838.83 L220.82,838.82 L218.89,838.82 L216.95,838.82 L215.01,838.81 L213.07,838.79 L211.14,838.76 L209.2,838.73 L207.26,838.7 L205.32,838.68 L203.39,838.66 L201.45,838.65 L199.51,838.65 L197.57,838.66 L195.64,838.65 L193.7,838.62 L191.76,838.59 L189.83,838.55 L187.89,838.52 L185.95,838.49 L184.01,838.47 L182.08,838.48 L180.14,838.51 L178.2,838.56 L176.26,838.63 L174.33,838.71 L172.39,838.79 L170.46,838.87 L168.52,838.95 L166.59,839.08 L164.65,839.29 L162.72,839.56 L160.79,839.88 L158.85,840.21 L156.92,840.55 L154.98,840.87 L153.05,841.16 L151.11,841.41 L149.18,841.65 L147.25,841.89 L145.31,842.12 L143.38,842.36 L141.44,842.6 L139.51,842.83 L137.57,843.07 L135.64,843.31 L133.71,843.55 L131.77,843.8 L129.84,844.04 L127.9,844.29 L125.97,844.54 L124.03,844.79 L122.1,845.03 L120.16,845.28 L118.23,845.53 L116.3,845.78 L114.36,846.02 L112.43,846.27 L110.5,846.51 L108.57,846.76 L106.63,847 L104.7,847.25 L102.77,847.49 L100.84,847.74 L98.91,847.98 L96.98,848.22 L95.05,848.46 L93.12,848.7 L91.18,848.94 L89.25,849.17 L87.32,849.41 L85.39,849.63 L83.46,849.86 L81.53,850.08 L79.6,850.3 L77.67,850.52 L75.73,850.73 L73.8,850.93 L71.87,851.14 L69.94,851.33 L68.01,851.53Z" fill="#fbc9c8"/>
<path d="M68.01,830.41 L69.94,830.54 L71.87,830.67 L73.8,830.8 L75.73,830.93 L77.67,831.06 L79.6,831.19 L81.53,831.32 L83.46,831.45 L85.39,831.58 L87.32,831.71 L89.25,831.84 L91.18,831.96 L93.12,832.09 L95.05,832.22 L96.98,832.35 L98.91,832.48 L100.84,832.61 L102.77,832.74 L104.7,832.87 L106.63,833.01 L108.57,833.14 L110.5,833.28 L112.43,833.42 L114.36,833.55 L116.3,833.7 L118.23,833.84 L120.16,833.98 L122.1,834.13 L124.03,834.28 L125.97,834.43 L127.9,834.59 L129.84,834.75 L131.77,834.91 L133.71,835.07 L135.64,835.24 L137.57,835.41 L139.51,835.58 L141.44,835.76 L143.38,835.94 L145.31,836.12 L147.25,836.29 L149.18,836.47 L151.11,836.64 L153.05,836.81 L154.98,836.97 L156.92,837.13 L158.85,837.29 L160.79,837.43 L162.72,837.57 L164.65,837.69 L166.59,837.81 L168.52,837.91 L170.46,838.01 L172.39,838.09 L174.33,838.15 L176.26,838.2 L178.2,838.24 L180.14,838.25 L182.08,838.25 L184.01,838.24 L185.95,838.2 L187.89,838.14 L189.83,838.06 L191.76,837.96 L193.7,837.83 L195.64,837.69 L197.57,837.53 L199.51,837.36 L201.45,837.16 L203.39,836.95 L205.32,836.73 L207.26,836.48 L209.2,836.23 L211.14,835.96 L213.07,835.68 L215.01,835.38 L216.95,835.07 L218.89,834.76 L220.82,834.43 L222.76,834.09 L224.7,833.75 L226.64,833.39 L228.57,833.03 L230.51,832.67 L232.45,832.3 L234.39,831.92 L236.32,831.54 L238.26,831.16 L240.19,830.78 L242.12,830.39 L244.05,830.01 L245.98,829.62 L247.92,829.22 L249.85,828.83 L251.78,828.43 L253.71,828.04 L255.64,827.64 L257.57,827.24 L259.5,826.83 L261.43,826.42 L263.37,826.02 L265.3,825.6 L267.23,825.19 L269.16,824.78 L271.09,824.36 L273.02,823.94 L274.95,823.52 L276.88,823.09 L278.82,822.66 L280.75,822.23 L282.68,821.8 L284.61,821.37 L286.54,820.93 L288.47,820.49 L290.4,820.05 L292.33,819.6 L294.27,819.15 L296.2,818.7 L298.13,818.25" fill="none" stroke="#d9454b" stroke-width="2.2" stroke-linejoin="round"/>
<line x1="37.6" y1="838.4" x2="312.5" y2="838.4" stroke="#111" stroke-width="2" stroke-dasharray="7.06 7.06"/>
<path d="M37.6,658.5 L37.6,906.2 L312.5,906.2" fill="none" stroke="#2b2b2b" stroke-width="1.25" stroke-linejoin="miter" stroke-linecap="square"/>
<line x1="34.6" y1="894.9" x2="37.6" y2="894.9" stroke="#2b2b2b" stroke-width="1.25"/>
<text x="32.1" y="898.4" text-anchor="end" class="tk">0</text>
<line x1="34.6" y1="838.4" x2="37.6" y2="838.4" stroke="#2b2b2b" stroke-width="1.25"/>
<text x="32.1" y="841.9" text-anchor="end" class="tk">1</text>
<line x1="34.6" y1="782.3" x2="37.6" y2="782.3" stroke="#2b2b2b" stroke-width="1.25"/>
<text x="32.1" y="785.8" text-anchor="end" class="tk">2</text>
<line x1="34.6" y1="726.0" x2="37.6" y2="726.0" stroke="#2b2b2b" stroke-width="1.25"/>
<text x="32.1" y="729.5" text-anchor="end" class="tk">3</text>
<line x1="34.6" y1="669.1" x2="37.6" y2="669.1" stroke="#2b2b2b" stroke-width="1.25"/>
<text x="32.1" y="672.6" text-anchor="end" class="tk">4</text>
<line x1="50.1" y1="906.2" x2="50.1" y2="909.2" stroke="#2b2b2b" stroke-width="1.25"/>
<text x="50.1" y="919" text-anchor="middle" class="tk">0</text>
<line x1="112.5" y1="906.2" x2="112.5" y2="909.2" stroke="#2b2b2b" stroke-width="1.25"/>
<text x="112.5" y="919" text-anchor="middle" class="tk">100</text>
<line x1="175.0" y1="906.2" x2="175.0" y2="909.2" stroke="#2b2b2b" stroke-width="1.25"/>
<text x="175.0" y="919" text-anchor="middle" class="tk">200</text>
<line x1="237.6" y1="906.2" x2="237.6" y2="909.2" stroke="#2b2b2b" stroke-width="1.25"/>
<text x="237.6" y="919" text-anchor="middle" class="tk">300</text>
<line x1="300.0" y1="906.2" x2="300.0" y2="909.2" stroke="#2b2b2b" stroke-width="1.25"/>
<text x="300.0" y="919" text-anchor="middle" class="tk">400</text>
<text x="37" y="648.0" class="ti">HS death</text>
<text x="83.4" y="934.1" class="at">Estimated sodium intake (mmol/d)</text>
<text transform="translate(20.4,781.8) rotate(-90)" text-anchor="middle" class="yl">HR(95%CI)</text>
<path d="M415.44,793.85 L417.38,795.01 L419.32,796.15 L421.26,797.27 L423.19,798.37 L425.13,799.46 L427.07,800.52 L429.01,801.57 L430.95,802.61 L432.89,803.62 L434.83,804.62 L436.77,805.6 L438.71,806.57 L440.65,807.52 L442.59,808.46 L444.53,809.38 L446.47,810.28 L448.41,811.17 L450.35,812.05 L452.29,812.91 L454.23,813.76 L456.17,814.59 L458.11,815.41 L460.05,816.21 L461.98,817 L463.91,817.78 L465.84,818.54 L467.77,819.29 L469.69,820.02 L471.62,820.74 L473.55,821.45 L475.48,822.15 L477.4,822.83 L479.33,823.5 L481.26,824.16 L483.19,824.81 L485.11,825.44 L487.04,826.06 L488.97,826.67 L490.9,827.27 L492.82,827.85 L494.75,828.42 L496.68,828.97 L498.61,829.51 L500.54,830.04 L502.46,830.55 L504.39,831.04 L506.32,831.53 L508.25,831.99 L510.17,832.44 L512.1,832.87 L514.03,833.29 L515.96,833.69 L517.88,834.07 L519.81,834.43 L521.74,834.78 L523.67,835.11 L525.59,835.42 L527.52,835.71 L529.45,835.98 L531.38,836.24 L533.3,836.36 L535.23,836.39 L537.16,836.41 L539.09,836.4 L541.01,836.38 L542.94,836.34 L544.87,836.29 L546.8,836.22 L548.72,836.14 L550.65,836.04 L552.58,835.93 L554.51,835.8 L556.44,835.67 L558.36,835.52 L560.29,835.36 L562.22,835.19 L564.15,835.01 L566.07,834.81 L568,834.61 L569.93,834.4 L571.86,834.18 L573.78,833.95 L575.71,833.72 L577.64,833.48 L579.57,833.23 L581.49,832.97 L583.42,832.71 L585.35,832.45 L587.3,832.18 L589.24,831.9 L591.19,831.62 L593.13,831.34 L595.08,831.05 L597.03,830.76 L598.97,830.47 L600.92,830.17 L602.87,829.86 L604.81,829.55 L606.76,829.24 L608.7,828.92 L610.65,828.6 L612.6,828.27 L614.54,827.94 L616.49,827.6 L618.43,827.26 L620.38,826.92 L622.33,826.57 L624.27,826.22 L626.22,825.86 L628.16,825.5 L630.11,825.14 L632.06,824.77 L634,824.39 L635.95,824.02 L637.9,823.63 L639.84,823.25 L641.79,822.86 L643.73,822.46 L645.68,822.06 L645.68,835.23 L643.73,835.29 L641.79,835.36 L639.84,835.42 L637.9,835.49 L635.95,835.56 L634,835.63 L632.06,835.7 L630.11,835.77 L628.16,835.85 L626.22,835.93 L624.27,836 L622.33,836.08 L620.38,836.16 L618.43,836.24 L616.49,836.32 L614.54,836.4 L612.6,836.48 L610.65,836.56 L608.7,836.64 L606.76,836.72 L604.81,836.79 L602.87,836.87 L600.92,836.95 L598.97,837.03 L597.03,837.1 L595.08,837.18 L593.13,837.25 L591.19,837.32 L589.24,837.39 L587.3,837.46 L585.35,837.53 L583.42,837.59 L581.49,837.65 L579.57,837.71 L577.64,837.77 L575.71,837.82 L573.78,837.86 L571.86,837.9 L569.93,837.94 L568,837.96 L566.07,837.98 L564.15,837.99 L562.22,837.99 L560.29,837.99 L558.36,837.97 L556.44,837.94 L554.51,837.9 L552.58,837.84 L550.65,837.78 L548.72,837.7 L546.8,837.6 L544.87,837.49 L542.94,837.37 L541.01,837.23 L539.09,837.07 L537.16,836.89 L535.23,836.69 L533.3,836.48 L531.38,836.32 L529.45,836.25 L527.52,836.17 L525.59,836.08 L523.67,835.96 L521.74,835.84 L519.81,835.7 L517.88,835.55 L515.96,835.38 L514.03,835.2 L512.1,835.01 L510.17,834.81 L508.25,834.6 L506.32,834.38 L504.39,834.15 L502.46,833.91 L500.54,833.66 L498.61,833.4 L496.68,833.14 L494.75,832.87 L492.82,832.59 L490.9,832.3 L488.97,832.02 L487.04,831.72 L485.11,831.43 L483.19,831.13 L481.26,830.83 L479.33,830.52 L477.4,830.21 L475.48,829.9 L473.55,829.59 L471.62,829.28 L469.69,828.96 L467.77,828.64 L465.84,828.32 L463.91,828 L461.98,827.68 L460.05,827.36 L458.11,827.03 L456.17,826.71 L454.23,826.38 L452.29,826.06 L450.35,825.73 L448.41,825.41 L446.47,825.09 L444.53,824.76 L442.59,824.44 L440.65,824.12 L438.71,823.8 L436.77,823.49 L434.83,823.17 L432.89,822.86 L430.95,822.55 L429.01,822.24 L427.07,821.94 L425.13,821.64 L423.19,821.34 L421.26,821.04 L419.32,820.75 L417.38,820.46 L415.44,820.18Z" fill="#fbc9c8"/>
<path d="M415.44,808.03 L417.38,808.7 L419.32,809.35 L421.26,810.01 L423.19,810.66 L425.13,811.3 L427.07,811.94 L429.01,812.57 L430.95,813.2 L432.89,813.83 L434.83,814.44 L436.77,815.06 L438.71,815.67 L440.65,816.27 L442.59,816.87 L444.53,817.46 L446.47,818.05 L448.41,818.63 L450.35,819.21 L452.29,819.78 L454.23,820.35 L456.17,820.9 L458.11,821.46 L460.05,822 L461.98,822.54 L463.91,823.08 L465.84,823.6 L467.77,824.12 L469.69,824.64 L471.62,825.15 L473.55,825.65 L475.48,826.14 L477.4,826.63 L479.33,827.11 L481.26,827.58 L483.19,828.05 L485.11,828.5 L487.04,828.96 L488.97,829.4 L490.9,829.84 L492.82,830.26 L494.75,830.68 L496.68,831.09 L498.61,831.49 L500.54,831.87 L502.46,832.25 L504.39,832.62 L506.32,832.97 L508.25,833.31 L510.17,833.64 L512.1,833.95 L514.03,834.25 L515.96,834.54 L517.88,834.81 L519.81,835.07 L521.74,835.31 L523.67,835.54 L525.59,835.75 L527.52,835.94 L529.45,836.12 L531.38,836.28 L533.3,836.42 L535.23,836.54 L537.16,836.65 L539.09,836.73 L541.01,836.8 L542.94,836.86 L544.87,836.89 L546.8,836.92 L548.72,836.92 L550.65,836.91 L552.58,836.89 L554.51,836.86 L556.44,836.81 L558.36,836.76 L560.29,836.69 L562.22,836.61 L564.15,836.52 L566.07,836.42 L568,836.31 L569.93,836.2 L571.86,836.07 L573.78,835.94 L575.71,835.8 L577.64,835.66 L579.57,835.51 L581.49,835.36 L583.42,835.2 L585.35,835.04 L587.3,834.88 L589.24,834.71 L591.19,834.54 L593.13,834.37 L595.08,834.19 L597.03,834.02 L598.97,833.84 L600.92,833.65 L602.87,833.47 L604.81,833.28 L606.76,833.09 L608.7,832.9 L610.65,832.71 L612.6,832.51 L614.54,832.32 L616.49,832.12 L618.43,831.92 L620.38,831.71 L622.33,831.51 L624.27,831.31 L626.22,831.1 L628.16,830.89 L630.11,830.68 L632.06,830.47 L634,830.26 L635.95,830.05 L637.9,829.84 L639.84,829.63 L641.79,829.41 L643.73,829.2 L645.68,828.99" fill="none" stroke="#d9454b" stroke-width="2.2" stroke-linejoin="round"/>
<line x1="385.2" y1="836.4" x2="660.4" y2="836.4" stroke="#111" stroke-width="2" stroke-dasharray="7.06 7.06"/>
<path d="M385.2,656.7 L385.2,903.9 L660.4,903.9" fill="none" stroke="#2b2b2b" stroke-width="1.25" stroke-linejoin="miter" stroke-linecap="square"/>
<line x1="382.2" y1="892.7" x2="385.2" y2="892.7" stroke="#2b2b2b" stroke-width="1.25"/>
<text x="379.7" y="896.2" text-anchor="end" class="tk">0</text>
<line x1="382.2" y1="836.4" x2="385.2" y2="836.4" stroke="#2b2b2b" stroke-width="1.25"/>
<text x="379.7" y="839.9" text-anchor="end" class="tk">1</text>
<line x1="382.2" y1="780.2" x2="385.2" y2="780.2" stroke="#2b2b2b" stroke-width="1.25"/>
<text x="379.7" y="783.7" text-anchor="end" class="tk">2</text>
<line x1="382.2" y1="723.7" x2="385.2" y2="723.7" stroke="#2b2b2b" stroke-width="1.25"/>
<text x="379.7" y="727.2" text-anchor="end" class="tk">3</text>
<line x1="382.2" y1="667.1" x2="385.2" y2="667.1" stroke="#2b2b2b" stroke-width="1.25"/>
<text x="379.7" y="670.6" text-anchor="end" class="tk">4</text>
<line x1="397.6" y1="903.9" x2="397.6" y2="906.9" stroke="#2b2b2b" stroke-width="1.25"/>
<text x="397.6" y="916.7" text-anchor="middle" class="tk">0</text>
<line x1="460.4" y1="903.9" x2="460.4" y2="906.9" stroke="#2b2b2b" stroke-width="1.25"/>
<text x="460.4" y="916.7" text-anchor="middle" class="tk">100</text>
<line x1="522.8" y1="903.9" x2="522.8" y2="906.9" stroke="#2b2b2b" stroke-width="1.25"/>
<text x="522.8" y="916.7" text-anchor="middle" class="tk">200</text>
<line x1="585.2" y1="903.9" x2="585.2" y2="906.9" stroke="#2b2b2b" stroke-width="1.25"/>
<text x="585.2" y="916.7" text-anchor="middle" class="tk">300</text>
<line x1="648.2" y1="903.9" x2="648.2" y2="906.9" stroke="#2b2b2b" stroke-width="1.25"/>
<text x="648.2" y="916.7" text-anchor="middle" class="tk">400</text>
<text x="385" y="646.0" class="ti">Non−CVD death</text>
<text x="431.2" y="931.6" class="at">Estimated sodium intake (mmol/d)</text>
<text transform="translate(367.6,779.8) rotate(-90)" text-anchor="middle" class="yl">HR(95%CI)</text>
<path d="M68.89,1131.51 L70.92,1132.44 L72.96,1133.35 L74.99,1134.25 L77.03,1135.14 L79.07,1136.02 L81.1,1136.89 L83.14,1137.74 L85.18,1138.59 L87.21,1139.42 L89.25,1140.24 L91.29,1141.05 L93.32,1141.85 L95.36,1142.64 L97.4,1143.42 L99.43,1144.19 L101.47,1144.95 L103.51,1145.7 L105.54,1146.45 L107.58,1147.18 L109.62,1147.91 L111.65,1148.62 L113.69,1149.33 L115.73,1150.04 L117.77,1150.73 L119.83,1151.42 L121.88,1152.09 L123.94,1152.77 L125.99,1153.43 L128.05,1154.09 L130.1,1154.74 L132.16,1155.39 L134.21,1156.03 L136.27,1156.66 L138.32,1157.29 L140.38,1157.91 L142.43,1158.53 L144.49,1159.14 L146.54,1159.75 L148.6,1160.35 L150.66,1160.94 L152.71,1161.53 L154.77,1162.11 L156.82,1162.68 L158.88,1163.24 L160.93,1163.8 L162.99,1164.34 L165.04,1164.88 L167.1,1165.4 L169.15,1165.92 L171.21,1166.43 L173.26,1166.93 L175.32,1167.41 L177.37,1167.89 L179.43,1168.35 L181.48,1168.8 L183.54,1169.1 L185.6,1169.13 L187.66,1169.16 L189.71,1169.18 L191.77,1169.19 L193.83,1169.2 L195.89,1169.2 L197.95,1169.18 L200.01,1169.16 L202.06,1169.13 L204.12,1169.09 L206.18,1169.05 L208.24,1168.99 L210.3,1168.93 L212.36,1168.87 L214.41,1168.8 L216.47,1168.72 L218.53,1168.64 L220.59,1168.56 L222.65,1168.47 L224.71,1168.38 L226.76,1168.29 L228.82,1168.19 L230.88,1168.1 L232.94,1168 L235,1167.9 L237.06,1167.8 L239.11,1167.7 L241.17,1167.61 L243.23,1167.51 L245.29,1167.42 L247.35,1167.33 L249.41,1167.24 L251.48,1167.16 L253.54,1167.08 L255.61,1167 L257.68,1166.92 L259.75,1166.85 L261.81,1166.78 L263.88,1166.72 L265.95,1166.65 L268.02,1166.59 L270.08,1166.54 L272.15,1166.48 L274.22,1166.43 L276.29,1166.37 L278.36,1166.32 L280.42,1166.28 L282.49,1166.23 L284.56,1166.18 L286.63,1166.14 L288.69,1166.1 L290.76,1166.06 L292.83,1166.01 L294.9,1165.97 L296.96,1165.94 L299.03,1165.9 L301.1,1165.86 L303.17,1165.82 L305.23,1165.78 L307.3,1165.74 L309.37,1165.71 L311.44,1165.67 L313.5,1165.63 L313.5,1184.25 L311.44,1184.06 L309.37,1183.86 L307.3,1183.66 L305.23,1183.46 L303.17,1183.26 L301.1,1183.06 L299.03,1182.86 L296.96,1182.66 L294.9,1182.46 L292.83,1182.25 L290.76,1182.05 L288.69,1181.85 L286.63,1181.64 L284.56,1181.43 L282.49,1181.23 L280.42,1181.02 L278.36,1180.81 L276.29,1180.61 L274.22,1180.4 L272.15,1180.19 L270.08,1179.98 L268.02,1179.78 L265.95,1179.57 L263.88,1179.36 L261.81,1179.16 L259.75,1178.95 L257.68,1178.75 L255.61,1178.54 L253.54,1178.34 L251.48,1178.13 L249.41,1177.93 L247.35,1177.73 L245.29,1177.53 L243.23,1177.33 L241.17,1177.12 L239.11,1176.92 L237.06,1176.72 L235,1176.51 L232.94,1176.31 L230.88,1176.1 L228.82,1175.88 L226.76,1175.66 L224.71,1175.44 L222.65,1175.22 L220.59,1174.99 L218.53,1174.75 L216.47,1174.51 L214.41,1174.25 L212.36,1174 L210.3,1173.73 L208.24,1173.46 L206.18,1173.17 L204.12,1172.88 L202.06,1172.57 L200.01,1172.26 L197.95,1171.93 L195.89,1171.59 L193.83,1171.24 L191.77,1170.87 L189.71,1170.49 L187.66,1170.08 L185.6,1169.67 L183.54,1169.24 L181.48,1169.06 L179.43,1169.01 L177.37,1168.96 L175.32,1168.9 L173.26,1168.84 L171.21,1168.77 L169.15,1168.7 L167.1,1168.63 L165.04,1168.56 L162.99,1168.48 L160.93,1168.4 L158.88,1168.33 L156.82,1168.25 L154.77,1168.17 L152.71,1168.09 L150.66,1168.01 L148.6,1167.94 L146.54,1167.87 L144.49,1167.8 L142.43,1167.73 L140.38,1167.66 L138.32,1167.6 L136.27,1167.55 L134.21,1167.5 L132.16,1167.45 L130.1,1167.4 L128.05,1167.36 L125.99,1167.32 L123.94,1167.28 L121.88,1167.25 L119.83,1167.22 L117.77,1167.19 L115.73,1167.17 L113.69,1167.15 L111.65,1167.13 L109.62,1167.12 L107.58,1167.11 L105.54,1167.1 L103.51,1167.09 L101.47,1167.09 L99.43,1167.09 L97.4,1167.09 L95.36,1167.1 L93.32,1167.11 L91.29,1167.12 L89.25,1167.13 L87.21,1167.15 L85.18,1167.16 L83.14,1167.19 L81.1,1167.21 L79.07,1167.24 L77.03,1167.27 L74.99,1167.3 L72.96,1167.33 L70.92,1167.37 L68.89,1167.41Z" fill="#fbc9c8"/>
<path d="M68.89,1151.38 L70.92,1151.73 L72.96,1152.08 L74.99,1152.43 L77.03,1152.77 L79.07,1153.12 L81.1,1153.46 L83.14,1153.8 L85.18,1154.14 L87.21,1154.48 L89.25,1154.82 L91.29,1155.15 L93.32,1155.48 L95.36,1155.82 L97.4,1156.15 L99.43,1156.48 L101.47,1156.81 L103.51,1157.14 L105.54,1157.46 L107.58,1157.79 L109.62,1158.12 L111.65,1158.44 L113.69,1158.77 L115.73,1159.09 L117.77,1159.41 L119.83,1159.74 L121.88,1160.06 L123.94,1160.38 L125.99,1160.7 L128.05,1161.02 L130.1,1161.35 L132.16,1161.67 L134.21,1161.99 L136.27,1162.31 L138.32,1162.63 L140.38,1162.96 L142.43,1163.28 L144.49,1163.6 L146.54,1163.92 L148.6,1164.25 L150.66,1164.57 L152.71,1164.89 L154.77,1165.2 L156.82,1165.52 L158.88,1165.83 L160.93,1166.14 L162.99,1166.44 L165.04,1166.74 L167.1,1167.04 L169.15,1167.33 L171.21,1167.61 L173.26,1167.89 L175.32,1168.16 L177.37,1168.42 L179.43,1168.68 L181.48,1168.93 L183.54,1169.17 L185.6,1169.4 L187.66,1169.62 L189.71,1169.84 L191.77,1170.04 L193.83,1170.23 L195.89,1170.42 L197.95,1170.59 L200.01,1170.75 L202.06,1170.9 L204.12,1171.04 L206.18,1171.17 L208.24,1171.29 L210.3,1171.4 L212.36,1171.51 L214.41,1171.61 L216.47,1171.71 L218.53,1171.8 L220.59,1171.89 L222.65,1171.97 L224.71,1172.05 L226.76,1172.12 L228.82,1172.19 L230.88,1172.26 L232.94,1172.33 L235,1172.4 L237.06,1172.46 L239.11,1172.53 L241.17,1172.59 L243.23,1172.66 L245.29,1172.73 L247.35,1172.8 L249.41,1172.87 L251.48,1172.94 L253.54,1173.02 L255.61,1173.1 L257.68,1173.18 L259.75,1173.26 L261.81,1173.34 L263.88,1173.43 L265.95,1173.52 L268.02,1173.61 L270.08,1173.7 L272.15,1173.79 L274.22,1173.88 L276.29,1173.98 L278.36,1174.07 L280.42,1174.17 L282.49,1174.27 L284.56,1174.36 L286.63,1174.46 L288.69,1174.56 L290.76,1174.66 L292.83,1174.76 L294.9,1174.86 L296.96,1174.96 L299.03,1175.06 L301.1,1175.16 L303.17,1175.26 L305.23,1175.36 L307.3,1175.46 L309.37,1175.56 L311.44,1175.66 L313.5,1175.76" fill="none" stroke="#d9454b" stroke-width="2.2" stroke-linejoin="round"/>
<line x1="36.8" y1="1170.7" x2="329.0" y2="1170.7" stroke="#222" stroke-width="1.65" stroke-dasharray="7.06 7.06"/>
<path d="M36.8,969.2 L36.8,1246.4 L329.0,1246.4" fill="none" stroke="#2b2b2b" stroke-width="1.25" stroke-linejoin="miter" stroke-linecap="square"/>
<line x1="33.8" y1="1232.4" x2="36.8" y2="1232.4" stroke="#2b2b2b" stroke-width="1.25"/>
<text x="31.3" y="1235.9" text-anchor="end" class="tk">0</text>
<line x1="33.8" y1="1170.7" x2="36.8" y2="1170.7" stroke="#2b2b2b" stroke-width="1.25"/>
<text x="31.3" y="1174.2" text-anchor="end" class="tk">1</text>
<line x1="33.8" y1="1107.2" x2="36.8" y2="1107.2" stroke="#2b2b2b" stroke-width="1.25"/>
<text x="31.3" y="1110.7" text-anchor="end" class="tk">2</text>
<line x1="33.8" y1="1043.2" x2="36.8" y2="1043.2" stroke="#2b2b2b" stroke-width="1.25"/>
<text x="31.3" y="1046.7" text-anchor="end" class="tk">3</text>
<line x1="33.8" y1="979.5" x2="36.8" y2="979.5" stroke="#2b2b2b" stroke-width="1.25"/>
<text x="31.3" y="983" text-anchor="end" class="tk">4</text>
<line x1="51.2" y1="1246.4" x2="51.2" y2="1249.4" stroke="#2b2b2b" stroke-width="1.25"/>
<text x="51.2" y="1259.2" text-anchor="middle" class="tk">0</text>
<line x1="116.7" y1="1246.4" x2="116.7" y2="1249.4" stroke="#2b2b2b" stroke-width="1.25"/>
<text x="116.7" y="1259.2" text-anchor="middle" class="tk">100</text>
<line x1="182.8" y1="1246.4" x2="182.8" y2="1249.4" stroke="#2b2b2b" stroke-width="1.25"/>
<text x="182.8" y="1259.2" text-anchor="middle" class="tk">200</text>
<line x1="249.0" y1="1246.4" x2="249.0" y2="1249.4" stroke="#2b2b2b" stroke-width="1.25"/>
<text x="249.0" y="1259.2" text-anchor="middle" class="tk">300</text>
<line x1="315.5" y1="1246.4" x2="315.5" y2="1249.4" stroke="#2b2b2b" stroke-width="1.25"/>
<text x="315.5" y="1259.2" text-anchor="middle" class="tk">400</text>
<text x="36.5" y="963.6" class="ti">Cancer mortality</text>
<text x="95.7" y="1277.8" class="at">Estimated sodium intake (mmol/d)</text>
<text transform="translate(21.2,1093.5) rotate(-90)" text-anchor="middle" class="yl">HR(95%CI)</text>
<path d="M422.77,984.25 L424.77,991.72 L426.77,998.94 L428.78,1005.9 L430.78,1012.63 L432.78,1019.11 L434.78,1025.36 L436.79,1031.38 L438.79,1037.17 L440.79,1042.74 L442.79,1047.92 L444.8,1052.7 L446.8,1057.28 L448.8,1061.67 L450.8,1065.88 L452.81,1069.91 L454.81,1073.77 L456.81,1077.46 L458.81,1081 L460.82,1084.4 L462.82,1087.68 L464.82,1090.84 L466.84,1093.89 L468.87,1096.84 L470.9,1099.7 L472.94,1102.48 L474.97,1105.18 L477,1107.86 L479.03,1110.52 L481.07,1113.12 L483.1,1115.67 L485.13,1118.17 L487.17,1120.63 L489.2,1123.05 L491.23,1125.44 L493.26,1127.8 L495.3,1130.13 L497.33,1132.44 L499.36,1134.72 L501.4,1136.99 L503.43,1139.23 L505.46,1141.43 L507.49,1143.6 L509.53,1145.71 L511.56,1147.76 L513.59,1149.76 L515.63,1151.68 L517.66,1153.54 L519.69,1155.32 L521.72,1157.02 L523.76,1158.64 L525.79,1160.17 L527.82,1161.62 L529.86,1162.98 L531.89,1164.25 L533.91,1165.43 L535.94,1166.51 L537.96,1167.49 L539.98,1168.38 L542,1169.17 L544.02,1169.85 L546.04,1170.43 L548.06,1170.9 L550.08,1171.27 L552.1,1171.54 L554.12,1171.72 L556.14,1171.82 L558.16,1171.83 L560.18,1171.77 L562.2,1171.63 L564.23,1171.42 L566.25,1171.14 L568.27,1170.79 L570.29,1170.38 L572.31,1169.91 L574.33,1169.38 L576.35,1168.79 L578.37,1168.15 L580.39,1167.45 L582.41,1166.71 L584.43,1165.92 L586.45,1165.09 L588.47,1164.21 L590.49,1163.3 L592.52,1162.35 L594.54,1161.38 L596.56,1160.37 L598.58,1159.34 L600.59,1158.29 L602.59,1157.22 L604.59,1156.13 L606.59,1155.02 L608.6,1153.89 L610.6,1152.74 L612.6,1151.57 L614.6,1150.38 L616.61,1149.17 L618.61,1147.94 L620.61,1146.68 L622.61,1145.41 L624.62,1144.11 L626.62,1142.79 L628.62,1141.45 L630.62,1140.09 L632.63,1138.71 L634.63,1137.3 L636.63,1135.86 L638.63,1134.41 L640.64,1132.93 L642.64,1131.43 L644.64,1129.9 L646.64,1128.35 L648.65,1126.77 L650.65,1125.17 L652.65,1123.55 L654.65,1121.9 L656.66,1120.22 L658.66,1118.52 L660.66,1116.79 L662.66,1115.04 L662.66,1178.86 L660.66,1178.77 L658.66,1178.68 L656.66,1178.59 L654.65,1178.5 L652.65,1178.41 L650.65,1178.31 L648.65,1178.22 L646.64,1178.13 L644.64,1178.04 L642.64,1177.95 L640.64,1177.86 L638.63,1177.77 L636.63,1177.68 L634.63,1177.58 L632.63,1177.49 L630.62,1177.4 L628.62,1177.31 L626.62,1177.23 L624.62,1177.14 L622.61,1177.05 L620.61,1176.96 L618.61,1176.87 L616.61,1176.79 L614.6,1176.7 L612.6,1176.61 L610.6,1176.53 L608.6,1176.44 L606.59,1176.36 L604.59,1176.28 L602.59,1176.2 L600.59,1176.12 L598.58,1176.04 L596.56,1175.96 L594.54,1175.88 L592.52,1175.8 L590.49,1175.71 L588.47,1175.62 L586.45,1175.53 L584.43,1175.44 L582.41,1175.33 L580.39,1175.22 L578.37,1175.1 L576.35,1174.97 L574.33,1174.83 L572.31,1174.68 L570.29,1174.52 L568.27,1174.34 L566.25,1174.14 L564.23,1173.93 L562.2,1173.71 L560.18,1173.46 L558.16,1173.19 L556.14,1172.91 L554.12,1172.6 L552.1,1172.26 L550.08,1171.9 L548.06,1171.52 L546.04,1171.1 L544.02,1170.66 L542,1170.18 L539.98,1169.68 L537.96,1169.15 L535.94,1168.59 L533.91,1168 L531.89,1167.4 L529.86,1166.77 L527.82,1166.12 L525.79,1165.45 L523.76,1164.76 L521.72,1164.06 L519.69,1163.34 L517.66,1162.61 L515.63,1161.86 L513.59,1161.1 L511.56,1160.34 L509.53,1159.57 L507.49,1158.79 L505.46,1158.01 L503.43,1157.23 L501.4,1156.45 L499.36,1155.67 L497.33,1154.9 L495.3,1154.14 L493.26,1153.38 L491.23,1152.62 L489.2,1151.87 L487.17,1151.11 L485.13,1150.36 L483.1,1149.62 L481.07,1148.87 L479.03,1148.12 L477,1147.36 L474.97,1146.61 L472.94,1145.85 L470.9,1145.09 L468.87,1144.32 L466.84,1143.54 L464.82,1142.76 L462.82,1141.96 L460.82,1141.16 L458.81,1140.34 L456.81,1139.51 L454.81,1138.67 L452.81,1137.81 L450.8,1136.93 L448.8,1136.03 L446.8,1135.12 L444.8,1134.19 L442.79,1133.25 L440.79,1132.29 L438.79,1131.31 L436.79,1130.31 L434.78,1129.3 L432.78,1128.28 L430.78,1127.23 L428.78,1126.18 L426.77,1125.11 L424.77,1124.02 L422.77,1122.92Z" fill="#fbc9c8"/>
<path d="M418.68,1062.79 L420.72,1065.7 L422.76,1068.54 L424.79,1071.34 L426.83,1074.08 L428.87,1076.76 L430.9,1079.38 L432.94,1081.96 L434.98,1084.47 L437.02,1086.93 L439.05,1089.34 L441.09,1091.69 L443.13,1093.99 L445.16,1096.23 L447.2,1098.42 L449.24,1100.56 L451.27,1102.65 L453.31,1104.68 L455.35,1106.66 L457.38,1108.66 L459.42,1110.62 L461.46,1112.54 L463.49,1114.42 L465.53,1116.26 L467.59,1118.08 L469.66,1119.87 L471.73,1121.63 L473.79,1123.38 L475.86,1125.1 L477.93,1126.81 L480,1128.5 L482.06,1130.18 L484.13,1131.84 L486.2,1133.5 L488.27,1135.16 L490.34,1136.8 L492.4,1138.45 L494.47,1140.09 L496.54,1141.73 L498.61,1143.36 L500.67,1145 L502.74,1146.64 L504.81,1148.26 L506.88,1149.87 L508.95,1151.45 L511.01,1153.01 L513.08,1154.53 L515.15,1156.02 L517.22,1157.46 L519.28,1158.85 L521.35,1160.2 L523.42,1161.49 L525.49,1162.72 L527.55,1163.9 L529.62,1165.02 L531.69,1166.07 L533.75,1167.05 L535.81,1167.97 L537.86,1168.81 L539.92,1169.58 L541.97,1170.28 L544.03,1170.89 L546.08,1171.43 L548.14,1171.89 L550.2,1172.27 L552.25,1172.58 L554.31,1172.82 L556.36,1172.99 L558.42,1173.11 L560.47,1173.17 L562.53,1173.18 L564.58,1173.13 L566.64,1173.04 L568.69,1172.91 L570.75,1172.73 L572.8,1172.51 L574.86,1172.26 L576.92,1171.98 L578.97,1171.66 L581.03,1171.32 L583.08,1170.95 L585.14,1170.56 L587.19,1170.15 L589.25,1169.72 L591.3,1169.27 L593.36,1168.82 L595.41,1168.36 L597.47,1167.89 L599.52,1167.42 L601.56,1166.96 L603.6,1166.5 L605.63,1166.04 L607.67,1165.58 L609.71,1165.13 L611.74,1164.68 L613.78,1164.23 L615.82,1163.78 L617.85,1163.33 L619.89,1162.88 L621.93,1162.44 L623.96,1162 L626,1161.56 L628.04,1161.12 L630.08,1160.68 L632.11,1160.24 L634.15,1159.8 L636.19,1159.36 L638.22,1158.92 L640.26,1158.48 L642.3,1158.04 L644.33,1157.6 L646.37,1157.16 L648.41,1156.72 L650.44,1156.27 L652.48,1155.83 L654.52,1155.38 L656.55,1154.93 L658.59,1154.48 L660.63,1154.02 L662.66,1153.57" fill="none" stroke="#d9454b" stroke-width="2.2" stroke-linejoin="round"/>
<line x1="386.3" y1="1170.5" x2="678.8" y2="1170.5" stroke="#222" stroke-width="1.15" stroke-dasharray="7.06 7.06"/>
<path d="M386.3,968.3 L386.3,1246.0 L678.8,1246.0" fill="none" stroke="#2b2b2b" stroke-width="1.25" stroke-linejoin="miter" stroke-linecap="square"/>
<line x1="383.3" y1="1232.7" x2="386.3" y2="1232.7" stroke="#2b2b2b" stroke-width="1.25"/>
<text x="380.8" y="1236.2" text-anchor="end" class="tk">0</text>
<line x1="383.3" y1="1170.0" x2="386.3" y2="1170.0" stroke="#2b2b2b" stroke-width="1.25"/>
<text x="380.8" y="1173.5" text-anchor="end" class="tk">1</text>
<line x1="383.3" y1="1106.8" x2="386.3" y2="1106.8" stroke="#2b2b2b" stroke-width="1.25"/>
<text x="380.8" y="1110.3" text-anchor="end" class="tk">2</text>
<line x1="383.3" y1="1045.7" x2="386.3" y2="1045.7" stroke="#2b2b2b" stroke-width="1.25"/>
<text x="380.8" y="1049.2" text-anchor="end" class="tk">3</text>
<line x1="383.3" y1="980.0" x2="386.3" y2="980.0" stroke="#2b2b2b" stroke-width="1.25"/>
<text x="380.8" y="983.5" text-anchor="end" class="tk">4</text>
<line x1="400.1" y1="1246.0" x2="400.1" y2="1249" stroke="#2b2b2b" stroke-width="1.25"/>
<text x="400.1" y="1258.8" text-anchor="middle" class="tk">0</text>
<line x1="466.0" y1="1246.0" x2="466.0" y2="1249" stroke="#2b2b2b" stroke-width="1.25"/>
<text x="466.0" y="1258.8" text-anchor="middle" class="tk">100</text>
<line x1="532.9" y1="1246.0" x2="532.9" y2="1249" stroke="#2b2b2b" stroke-width="1.25"/>
<text x="532.9" y="1258.8" text-anchor="middle" class="tk">200</text>
<line x1="599.4" y1="1246.0" x2="599.4" y2="1249" stroke="#2b2b2b" stroke-width="1.25"/>
<text x="599.4" y="1258.8" text-anchor="middle" class="tk">300</text>
<line x1="665.3" y1="1246.0" x2="665.3" y2="1249" stroke="#2b2b2b" stroke-width="1.25"/>
<text x="665.3" y="1258.8" text-anchor="middle" class="tk">400</text>
<text x="386.7" y="962.8" class="ti">Respiratory disease mortality</text>
<text x="453.5" y="1277.2" class="at">Estimated sodium intake (mmol/d)</text>
<text transform="translate(373.1,1093.3) rotate(-90)" text-anchor="middle" class="yl">HR(95%CI)</text>
</svg>
</body></html>
